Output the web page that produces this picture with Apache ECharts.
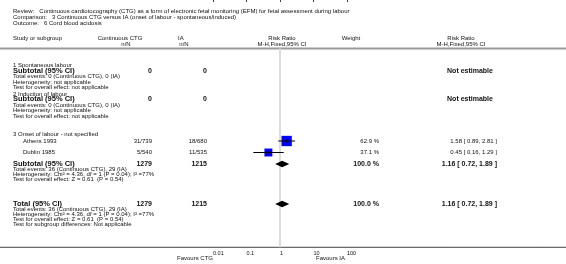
<!DOCTYPE html>
<html>
<head>
<meta charset="utf-8">
<script src="https://cdn.jsdelivr.net/npm/echarts@6/dist/echarts.min.js"></script>
<style>
  html, body { margin: 0; padding: 0; background: #fff; }
  #chart { width: 566px; height: 264px; }
</style>
</head>
<body>
<div id="chart"></div>
<script>
// data
var studies = ['Athens 1993', 'Dublin 1985'];
var ctgEvents = [31, 5];
var ctgTotal = [739, 540];
var iaEvents = [18, 11];
var iaTotal = [680, 535];
var weightPct = [62.9, 37.1];
var riskRatio = [1.58, 0.45];
var ciLow = [0.89, 0.16];
var ciHigh = [2.81, 1.29];
var pooledRR = [1.16, 0.72, 1.89];   // rr, low, high (subtotal and total)
var pooledN = [1279, 1215];
var tickValues = [0.01, 0.1, 1, 10, 100];

// layout (pixel rows of the table)
var rowY = {
  title: [11.5, 17.2, 23.2],
  head: [38, 44], rule: 48.5,
  g1: [65.5, 70.8, 76.5, 82, 87.5],
  g2: [94, 99.3, 105, 110.6, 116],
  g3: [134, 141, 152.5, 164, 169.3, 174.3, 179.3],
  tot: [204, 209.3, 214.3, 219.3, 224.7],
  axis: 247.3, favours: 258.5
};
var FONT = '"Liberation Sans", Arial, sans-serif';
var small = '6px ' + FONT, head = '6px ' + FONT;
var bold = 'bold 7px ' + FONT, boldL = 'bold 7.5px ' + FONT;

var gr = [];
function txt(s, x, y, font, align) {
  gr.push({ type: 'text', x: x, y: y, silent: true,
    style: { text: s, font: font || small, fill: '#111', textAlign: align || 'left', textVerticalAlign: 'middle' } });
}

txt('Review:   Continuous cardiotocography (CTG) as a form of electronic fetal monitoring (EFM) for fetal assessment during labour', 13, rowY.title[0]);
txt('Comparison:   3 Continuous CTG versus IA (onset of labour - spontaneous/induced)', 13, rowY.title[1]);
txt('Outcome:   6 Cord blood acidosis', 13, rowY.title[2]);

txt('Study or subgroup', 13, rowY.head[0], head);
txt('Continuous CTG', 120, rowY.head[0], head, 'center');
txt('n/N', 126, rowY.head[1], head, 'center');
txt('IA', 178, rowY.head[0], head);
txt('n/N', 184, rowY.head[1], head, 'center');
txt('Risk Ratio', 282, rowY.head[0], head, 'center');
txt('M-H,Fixed,95% CI', 282, rowY.head[1], head, 'center');
txt('Weight', 351, rowY.head[0], head, 'center');
txt('Risk Ratio', 461, rowY.head[0], head, 'center');
txt('M-H,Fixed,95% CI', 461, rowY.head[1], head, 'center');
gr.push({ type: 'line', silent: true, shape: { x1: 0, y1: rowY.rule, x2: 566, y2: rowY.rule },
  style: { stroke: '#9a9a9a', lineWidth: 2 } });

function emptyGroup(label, ys) {
  txt(label, 13, ys[0]);
  txt('Subtotal (95% CI)', 13, ys[1], boldL);
  txt('0', 152, ys[1], bold, 'right');
  txt('0', 207, ys[1], bold, 'right');
  txt('Not estimable', 470, ys[1], bold, 'center');
  txt('Total events: 0 (Continuous CTG), 0 (IA)', 13, ys[2]);
  txt('Heterogeneity: not applicable', 13, ys[3]);
  txt('Test for overall effect: not applicable', 13, ys[4]);
}
emptyGroup('1 Spontaneous labour', rowY.g1);
emptyGroup('2 Induction of labour', rowY.g2);

txt('3 Onset of labour - not specified', 13, rowY.g3[0]);
studies.forEach(function (s, i) {
  var y = rowY.g3[1 + i];
  txt(s, 23, y);
  txt(ctgEvents[i] + '/' + ctgTotal[i], 152, y, small, 'right');
  txt(iaEvents[i] + '/' + iaTotal[i], 207, y, small, 'right');
  txt(weightPct[i].toFixed(1) + ' %', 379, y, small, 'right');
  txt(riskRatio[i].toFixed(2) + ' [ ' + ciLow[i].toFixed(2) + ', ' + ciHigh[i].toFixed(2) + ' ]', 497, y, small, 'right');
});
var totEv = ctgEvents.reduce(function (a, b) { return a + b; }, 0);
var totEvIA = iaEvents.reduce(function (a, b) { return a + b; }, 0);
var pooledTxt = pooledRR[0].toFixed(2) + ' [ ' + pooledRR[1].toFixed(2) + ', ' + pooledRR[2].toFixed(2) + ' ]';
function pooledBlock(label, ys, extra) {
  txt(label, 13, ys[0], boldL);
  txt(String(pooledN[0]), 152, ys[0], bold, 'right');
  txt(String(pooledN[1]), 207, ys[0], bold, 'right');
  txt('100.0 %', 379, ys[0], bold, 'right');
  txt(pooledTxt, 497, ys[0], bold, 'right');
  txt('Total events: ' + totEv + ' (Continuous CTG), ' + totEvIA + ' (IA)', 13, ys[1]);
  txt('Heterogeneity: Chi\u00b2 = 4.36, df = 1 (P = 0.04); I\u00b2 =77%', 13, ys[2]);
  txt('Test for overall effect: Z = 0.61  (P = 0.54)', 13, ys[3]);
  if (extra) txt(extra, 13, ys[4]);
}
pooledBlock('Subtotal (95% CI)', rowY.g3.slice(3));
pooledBlock('Total (95% CI)', rowY.tot, 'Test for subgroup differences: Not applicable');

gr.push({ type: 'line', silent: true, shape: { x1: 0, y1: rowY.axis, x2: 566, y2: rowY.axis },
  style: { stroke: '#444', lineWidth: 1 } });
txt('Favours CTG', 213, rowY.favours, head, 'right');
txt('Favours IA', 316, rowY.favours, head);

// marks
var studyData = studies.map(function (s, i) {
  return [riskRatio[i], ciLow[i], ciHigh[i], rowY.g3[1 + i], weightPct[i]];
});
var diamondData = [
  [pooledRR[0], pooledRR[1], pooledRR[2], rowY.g3[3]],
  [pooledRR[0], pooledRR[1], pooledRR[2], rowY.tot[0]]
];

var myChart = echarts.init(document.getElementById('chart'), null, { renderer: 'canvas' });
var option = {
  animation: false,
  grid: { left: 213, right: 219, top: 0, height: rowY.axis },
  xAxis: {
    type: 'log', logBase: 10, min: tickValues[0], max: tickValues[tickValues.length - 1], interval: 1,
    axisLine: { show: false },
    axisTick: { show: true, length: 2, lineStyle: { color: '#444' } },
    splitLine: { show: false },
    axisLabel: { fontSize: 5.5, fontFamily: 'Liberation Sans', color: '#111', margin: 3, align: 'left',
      formatter: function (v) { return String(+v.toPrecision(3)); } }
  },
  yAxis: { type: 'value', min: 0, max: rowY.axis, inverse: true, show: false },
  series: [
    {
      type: 'custom', silent: true,
      data: [[1, rowY.rule]],
      renderItem: function (params, api) {
        var a = api.coord([1, rowY.rule]), b = api.coord([1, rowY.axis]);
        return { type: 'line', shape: { x1: a[0], y1: a[1], x2: b[0], y2: b[1] },
          style: { stroke: '#dcdcdc', lineWidth: 2 } };
      }
    },
    {
      type: 'custom', silent: true, data: studyData,
      renderItem: function (params, api) {
        var c = api.coord([api.value(0), api.value(3)]);
        var l = api.coord([api.value(1), api.value(3)]);
        var h = api.coord([api.value(2), api.value(3)]);
        var s = 1.3 * Math.sqrt(api.value(4));
        return { type: 'group', children: [
          { type: 'rect', shape: { x: c[0] - s / 2, y: c[1] - s / 2, width: s, height: s }, style: { fill: '#0000ff' } },
          { type: 'line', shape: { x1: l[0], y1: c[1], x2: h[0], y2: c[1] }, style: { stroke: '#000', lineWidth: 1 } },
          { type: 'line', shape: { x1: c[0], y1: c[1] - 1.5, x2: c[0], y2: c[1] + 1.5 }, style: { stroke: '#000', lineWidth: 1 } }
        ] };
      }
    },
    {
      type: 'custom', silent: true, data: diamondData,
      renderItem: function (params, api) {
        var c = api.coord([api.value(0), api.value(3)]);
        var l = api.coord([api.value(1), api.value(3)]);
        var h = api.coord([api.value(2), api.value(3)]);
        return { type: 'polygon', shape: { points: [[l[0], c[1]], [c[0], c[1] - 3.2], [h[0], c[1]], [c[0], c[1] + 3.2]] },
          style: { fill: '#000' } };
      }
    }
  ],
  graphic: gr
};
myChart.setOption(option);
</script>
</body>
</html>
